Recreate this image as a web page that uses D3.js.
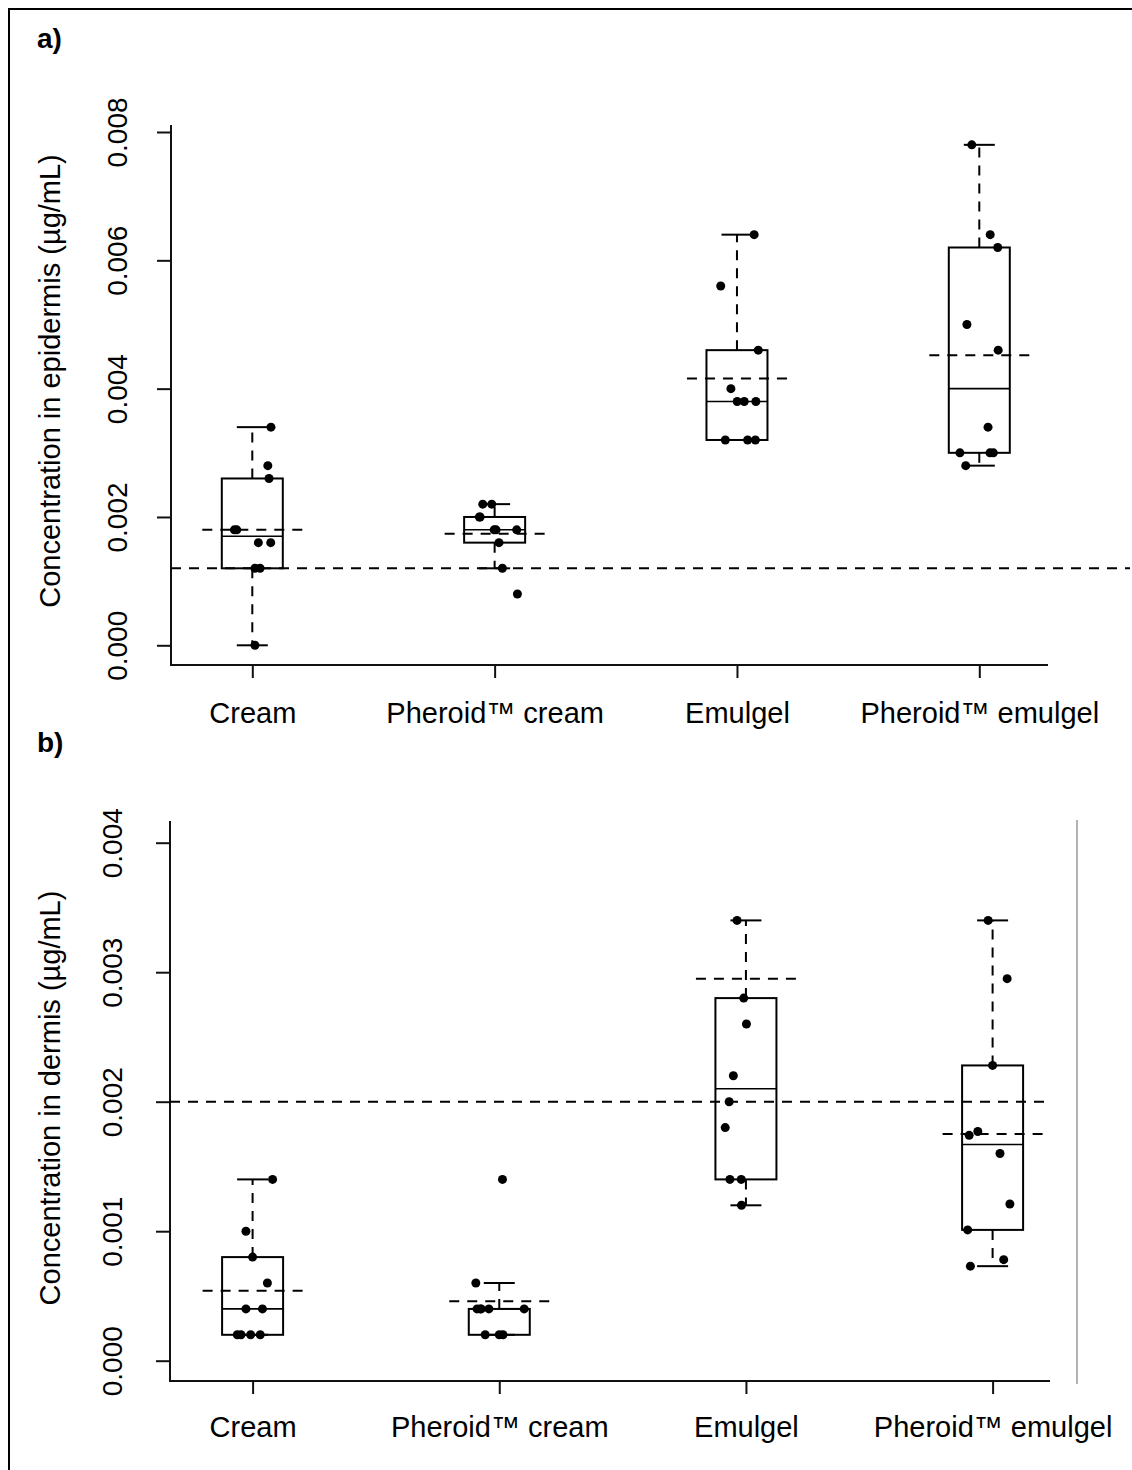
<!DOCTYPE html>
<html>
<head>
<meta charset="utf-8">
<script src="https://cdn.jsdelivr.net/npm/d3@7"></script>
<style>
  body { margin: 0; background: #fff; }
  svg { display: block; font-family: "Liberation Sans", Arial, sans-serif; }
</style>
</head>
<body>
<div id="chart"></div>
<script>
// Categories shared by both panels
const categories = ["Cream", "Pheroid™ cream", "Emulgel", "Pheroid™ emulgel"];

// a) epidermis (µg/mL)
const epiTicks = [0, 0.002, 0.004, 0.006, 0.008];
const epiLow = [0.0000, 0.0012, 0.0032, 0.0028];
const epiQ1 = [0.0012, 0.0016, 0.0032, 0.0030];
const epiMedian = [0.0017, 0.0018, 0.0038, 0.0040];
const epiQ3 = [0.0026, 0.0020, 0.0046, 0.0062];
const epiHigh = [0.0034, 0.0022, 0.0064, 0.0078];
const epiMean = [0.0018, 0.00174, 0.00416, 0.00452];
const epiReference = 0.0012;
const epiPoints = [
  [0.0034, 0.0028, 0.0026, 0.0018, 0.0018, 0.0016, 0.0016, 0.0012, 0.0012, 0.0000],
  [0.0022, 0.0022, 0.0020, 0.0020, 0.0018, 0.0018, 0.0018, 0.0016, 0.0012, 0.0008],
  [0.0064, 0.0056, 0.0046, 0.0040, 0.0038, 0.0038, 0.0038, 0.0032, 0.0032, 0.0032],
  [0.0078, 0.0064, 0.0062, 0.0050, 0.0046, 0.0034, 0.0030, 0.0030, 0.0030, 0.0028]
];
// horizontal jitter of each point, in category units
const epiJitter = [
  [0.077, 0.064, 0.069, -0.074, -0.064, 0.025, 0.076, 0.011, 0.032, 0.011],
  [-0.049, -0.012, -0.063, -0.060, -0.002, 0.091, 0.006, 0.018, 0.032, 0.094],
  [0.071, -0.067, 0.088, -0.025, 0.001, 0.030, 0.078, -0.048, 0.044, 0.076],
  [-0.031, 0.045, 0.076, -0.051, 0.078, 0.036, -0.080, 0.044, 0.058, -0.056]
];

// b) dermis (µg/mL)
const derTicks = [0, 0.001, 0.002, 0.003, 0.004];
const derLow = [0.0002, 0.0002, 0.0012, 0.00073];
const derQ1 = [0.0002, 0.0002, 0.0014, 0.00101];
const derMedian = [0.0004, 0.0004, 0.0021, 0.00167];
const derQ3 = [0.0008, 0.0004, 0.0028, 0.00228];
const derHigh = [0.0014, 0.0006, 0.0034, 0.0034];
const derMean = [0.00054, 0.00046, 0.00295, 0.00175];
const derReference = 0.002;
const derPoints = [
  [0.0014, 0.0010, 0.0008, 0.0006, 0.0004, 0.0004, 0.0002, 0.0002, 0.0002, 0.0002],
  [0.0014, 0.0006, 0.0004, 0.0004, 0.0004, 0.0004, 0.0004, 0.0002, 0.0002, 0.0002],
  [0.0034, 0.0028, 0.0026, 0.0022, 0.0020, 0.0018, 0.0014, 0.0014, 0.0012],
  [0.0034, 0.00295, 0.00228, 0.00177, 0.00174, 0.0016, 0.00121, 0.00101, 0.00078, 0.00073]
];
const derJitter = [
  [0.081, -0.027, 0.000, 0.060, -0.027, 0.040, -0.062, -0.047, -0.008, 0.031],
  [0.013, -0.095, -0.090, -0.077, -0.042, 0.101, -0.073, -0.057, 0.000, 0.015],
  [-0.036, -0.009, 0.002, -0.051, -0.068, -0.084, -0.065, -0.019, -0.018],
  [-0.018, 0.059, 0.000, -0.060, -0.095, 0.030, 0.070, -0.101, 0.045, -0.090]
];

const W = 1132, H = 1470;
const DASH = "10,8";
const INK = "#111";

const svg = d3.select("#chart").append("svg")
  .attr("width", W)
  .attr("height", H);

// outer frame (top and left edges visible)
svg.append("line").attr("x1", 8).attr("x2", W).attr("y1", 9).attr("y2", 9)
  .attr("stroke", "#000").attr("stroke-width", 2);
svg.append("line").attr("x1", 9).attr("x2", 9).attr("y1", 8).attr("y2", H)
  .attr("stroke", "#000").attr("stroke-width", 2);

function drawPanel(p) {
  const y = d3.scaleLinear().domain(p.domain).range(p.yRange);
  const x = d3.scalePoint().domain(categories).range(p.xRange);
  const step = x.step();
  const g = svg.append("g");

  // panel letter
  g.append("text")
    .attr("x", 37).attr("y", p.letterY)
    .attr("font-size", 28).attr("font-weight", "bold")
    .text(p.letter);

  // L-shaped plot frame
  g.append("path")
    .attr("d", `M${p.left},${p.top}V${p.bottom}H${p.right}`)
    .attr("fill", "none").attr("stroke", INK).attr("stroke-width", 2);

  // y axis ticks and labels
  const ya = g.append("g").attr("transform", `translate(${p.left},0)`)
    .call(d3.axisLeft(y).tickValues(p.ticks).tickFormat(d3.format(".3f")).tickSize(14));
  ya.attr("font-size", null).attr("font-family", null);
  ya.select(".domain").remove();
  ya.selectAll(".tick line").attr("stroke", INK).attr("stroke-width", 2);
  ya.selectAll(".tick text")
    .attr("x", null).attr("dy", null)
    .attr("text-anchor", "middle")
    .attr("transform", `translate(${-p.tickLabelOff},0) rotate(-90)`)
    .attr("font-size", 28).attr("fill", "#000");

  // x axis ticks and category labels
  const xa = g.append("g").attr("transform", `translate(0,${p.bottom})`)
    .call(d3.axisBottom(x).tickSize(13));
  xa.attr("font-size", null).attr("font-family", null);
  xa.select(".domain").remove();
  xa.selectAll(".tick line").attr("stroke", INK).attr("stroke-width", 2);
  xa.selectAll(".tick text")
    .attr("y", p.catLabelY).attr("dy", null)
    .attr("font-size", 29).attr("fill", "#000");

  // y axis title
  g.append("text")
    .attr("transform", `translate(60,${p.titleY}) rotate(-90)`)
    .attr("text-anchor", "middle")
    .attr("font-size", 29)
    .text(p.title);

  // reference dashed line
  g.append("line")
    .attr("x1", p.left).attr("x2", p.refEnd)
    .attr("y1", y(p.reference)).attr("y2", y(p.reference))
    .attr("stroke", "#000").attr("stroke-width", 2).attr("stroke-dasharray", DASH);

  const boxHalf = 30.5, capHalf = 15.5, meanHalf = 50;

  categories.forEach((c, i) => {
    const cx = x(c);
    const bg = g.append("g");

    // whiskers
    bg.append("line").attr("x1", cx).attr("x2", cx)
      .attr("y1", y(p.q3[i])).attr("y2", y(p.high[i]))
      .attr("stroke", "#000").attr("stroke-width", 2).attr("stroke-dasharray", DASH);
    bg.append("line").attr("x1", cx).attr("x2", cx)
      .attr("y1", y(p.q1[i])).attr("y2", y(p.low[i]))
      .attr("stroke", "#000").attr("stroke-width", 2).attr("stroke-dasharray", DASH);
    [p.high[i], p.low[i]].forEach(v => {
      bg.append("line").attr("x1", cx - capHalf).attr("x2", cx + capHalf)
        .attr("y1", y(v)).attr("y2", y(v))
        .attr("stroke", "#000").attr("stroke-width", 2);
    });

    // box
    bg.append("rect")
      .attr("x", cx - boxHalf).attr("width", boxHalf * 2)
      .attr("y", y(p.q3[i])).attr("height", y(p.q1[i]) - y(p.q3[i]))
      .attr("fill", "none").attr("stroke", "#000").attr("stroke-width", 2);
    bg.append("line").attr("x1", cx - boxHalf).attr("x2", cx + boxHalf)
      .attr("y1", y(p.median[i])).attr("y2", y(p.median[i]))
      .attr("stroke", "#000").attr("stroke-width", 1.6);

    // mean
    bg.append("line").attr("x1", cx - meanHalf).attr("x2", cx + meanHalf)
      .attr("y1", y(p.mean[i])).attr("y2", y(p.mean[i]))
      .attr("stroke", "#000").attr("stroke-width", 2).attr("stroke-dasharray", DASH);

    // jittered points
    bg.selectAll("circle")
      .data(p.points[i])
      .enter().append("circle")
      .attr("cx", (d, j) => cx + p.jitter[i][j] * step)
      .attr("cy", d => y(d))
      .attr("r", 4.5)
      .attr("fill", "#000");
  });
}

drawPanel({
  letter: "a)", letterY: 48,
  title: "Concentration in epidermis (µg/mL)", titleY: 381,
  domain: [0, 0.008], yRange: [645.3, 132], xRange: [252.3, 979.3],
  left: 171, right: 1048, top: 125, bottom: 665,
  tickLabelOff: 44, catLabelY: 58, refEnd: 1130,
  ticks: epiTicks, low: epiLow, q1: epiQ1, median: epiMedian, q3: epiQ3,
  high: epiHigh, mean: epiMean, reference: epiReference,
  points: epiPoints, jitter: epiJitter
});

drawPanel({
  letter: "b)", letterY: 752,
  title: "Concentration in dermis (µg/mL)", titleY: 1098,
  domain: [0, 0.004], yRange: [1360.7, 842.7], xRange: [252.6, 992.6],
  left: 170, right: 1050, top: 821, bottom: 1381,
  tickLabelOff: 48, catLabelY: 56, refEnd: 1050,
  ticks: derTicks, low: derLow, q1: derQ1, median: derMedian, q3: derQ3,
  high: derHigh, mean: derMean, reference: derReference,
  points: derPoints, jitter: derJitter
});

// thin grey rule at the right of panel b
svg.append("line").attr("x1", 1077).attr("x2", 1077).attr("y1", 820).attr("y2", 1384)
  .attr("stroke", "#999").attr("stroke-width", 1.5);
</script>
</body>
</html>
